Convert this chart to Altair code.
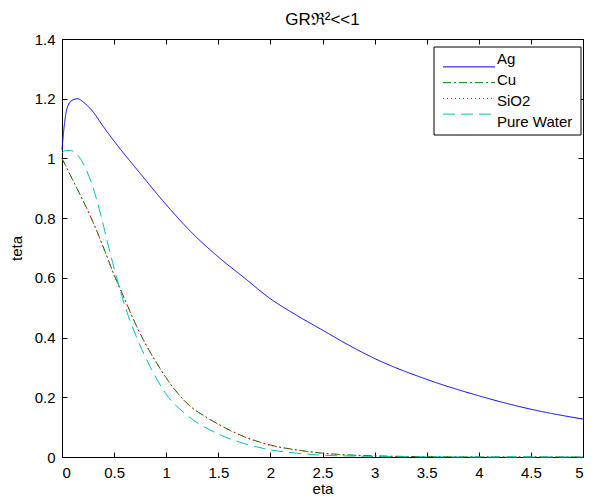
import altair as alt
import pandas as pd

series = ["Ag", "Cu", "SiO2", "Pure Water"]
colors = ["#0000FF", "#008000", "#FF0000", "#00BFBF"]
dashes = [[1, 0], [8, 3, 2, 3], [1, 3], [12, 6]]

eta_ag = [0, 0.025, 0.05, 0.1, 0.15, 0.2, 0.3, 0.4, 0.5, 0.75, 1.0, 1.25, 1.5, 1.75,
          2.0, 2.25, 2.5, 2.75, 3.0, 3.5, 4.0, 4.5, 5.0]
teta_ag = [1.03, 1.12, 1.17, 1.195, 1.2, 1.19, 1.155, 1.105, 1.058, 0.95, 0.845, 0.75,
           0.67, 0.6, 0.53, 0.475, 0.425, 0.375, 0.33, 0.26, 0.205, 0.16, 0.127]

eta_cu = [0, 0.1, 0.2, 0.3, 0.4, 0.5, 0.6, 0.7, 0.8, 0.9, 1.0, 1.2, 1.4, 1.5, 1.75,
          2.0, 2.25, 2.5, 2.75, 3.0, 3.5, 4.0, 5.0]
teta_cu = [1.0, 0.93, 0.86, 0.785, 0.7, 0.61, 0.53, 0.45, 0.38, 0.32, 0.265, 0.18, 0.13,
           0.11, 0.068, 0.04, 0.024, 0.013, 0.007, 0.004, 0.001, 0.0, 0.0]

eta_si = [0, 0.1, 0.2, 0.3, 0.4, 0.5, 0.6, 0.7, 0.8, 0.9, 1.0, 1.2, 1.4, 1.5, 1.75,
          2.0, 2.25, 2.5, 2.75, 3.0, 3.5, 4.0, 5.0]
teta_si = [1.0, 0.93, 0.86, 0.784, 0.699, 0.609, 0.529, 0.449, 0.379, 0.319, 0.264, 0.179,
           0.129, 0.109, 0.067, 0.039, 0.023, 0.012, 0.006, 0.003, 0.001, 0.0, 0.0]

eta_pw = [0, 0.05, 0.1, 0.15, 0.2, 0.3, 0.38, 0.45, 0.525, 0.6, 0.717, 0.85, 1.0, 1.2,
          1.5, 1.75, 2.0, 2.25, 2.5, 3.0, 3.5, 4.0, 5.0]
teta_pw = [1.02, 1.027, 1.025, 1.012, 0.985, 0.9, 0.8, 0.7, 0.6, 0.51, 0.4, 0.3, 0.21,
           0.14, 0.077, 0.045, 0.024, 0.013, 0.006, 0.002, 0.0005, 0.0, 0.0]

x_ticks = [0, 0.5, 1, 1.5, 2, 2.5, 3, 3.5, 4, 4.5, 5]
y_ticks = [0, 0.2, 0.4, 0.6, 0.8, 1.0, 1.2, 1.4]

rows = []
for name, xs, ys in [("Ag", eta_ag, teta_ag), ("Cu", eta_cu, teta_cu),
                     ("SiO2", eta_si, teta_si), ("Pure Water", eta_pw, teta_pw)]:
    for x, y in zip(xs, ys):
        rows.append({"series": name, "eta": x, "teta": y})
df = pd.DataFrame(rows)
legend_df = pd.DataFrame({"series": series})
box_df = pd.DataFrame({"k": [0]})

FONT = "Liberation Sans"
xscale = alt.Scale(domain=[0, 5], nice=False, zero=False)
yscale = alt.Scale(domain=[0, 1.4], nice=False, zero=False)
color_scale = alt.Scale(domain=series, range=colors)
dash_scale = alt.Scale(domain=series, range=dashes)
legend_y = alt.Y("series:N", scale=alt.Scale(domain=series, range=[20, 83], padding=0), axis=None)

lines = alt.Chart(df).mark_line(strokeWidth=1, interpolate="monotone").encode(
    x=alt.X("eta:Q", scale=xscale, axis=alt.Axis(
        orient="bottom", values=x_ticks, format="~g", title="eta",
        offset=-5, tickSize=5, labelPadding=8, domain=False, grid=False,
        titlePadding=1)),
    y=alt.Y("teta:Q", scale=yscale, axis=alt.Axis(
        orient="left", values=y_ticks, format="~g", title="teta",
        offset=-5, tickSize=5, labelPadding=7, domain=False, grid=False,
        titlePadding=10)),
    color=alt.Color("series:N", scale=color_scale, legend=None),
    strokeDash=alt.StrokeDash("series:N", scale=dash_scale, legend=None),
)

frame_axes = alt.Chart(df).mark_line(strokeOpacity=0).encode(
    x=alt.X("eta:Q", scale=xscale, axis=alt.Axis(
        orient="top", values=x_ticks, labels=False, title=None,
        offset=-5, tickSize=5, domain=False, grid=False)),
    y=alt.Y("teta:Q", scale=yscale, axis=alt.Axis(
        orient="right", values=y_ticks, labels=False, title=None,
        offset=-5, tickSize=5, domain=False, grid=False)),
    detail="series:N",
)

legend_box = alt.Chart(box_df).mark_rect(fill="white", stroke="black", strokeWidth=1).encode(
    x=alt.value(372), x2=alt.value(519), y=alt.value(8), y2=alt.value(96),
)

legend_lines = alt.Chart(legend_df).mark_rule(strokeWidth=1).encode(
    x=alt.value(381), x2=alt.value(433), y=legend_y,
    color=alt.Color("series:N", scale=color_scale, legend=None),
    strokeDash=alt.StrokeDash("series:N", scale=dash_scale, legend=None),
)

legend_text = alt.Chart(legend_df).mark_text(
    align="left", baseline="middle", font=FONT, fontSize=15, color="black"
).encode(
    x=alt.value(435), y=legend_y, text="series:N",
)

chart = alt.layer(lines, frame_axes, legend_box, legend_lines, legend_text).resolve_axis(
    x="independent", y="independent"
).resolve_scale(
    y="independent"
).properties(
    width=521, height=418,
    title=alt.TitleParams("GRℜ²<<1", fontSize=17, fontWeight="normal", font=FONT,
                          color="black", anchor="middle", offset=3),
    autosize=alt.AutoSizeParams(type="none"),
    padding={"left": 54, "top": 31, "right": 4, "bottom": 40},
    background="white",
).configure_view(
    stroke="black", strokeWidth=1
).configure_axis(
    labelFont=FONT, labelFontSize=15, labelColor="black",
    titleFont=FONT, titleFontSize=15, titleFontWeight="normal", titleColor="black",
    tickColor="black", tickWidth=1,
).configure_title(
    fontSize=17, fontWeight="normal", font=FONT, color="black"
)

chart.save("out.html", embed_options={"renderer": "svg", "actions": False})
